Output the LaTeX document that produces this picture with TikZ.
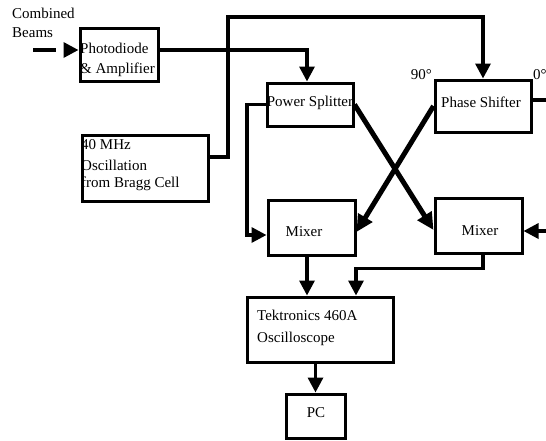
\documentclass[tikz,border=0pt]{standalone}
\usepackage{fontspec}
\setmainfont{Liberation Serif}
\usetikzlibrary{arrows.meta}
\begin{document}
\begin{tikzpicture}[x=1pt,y=-1pt,
  box/.style={draw,line width=3pt,inner sep=0pt},
  lbl/.style={font=\fontsize{15}{18}\selectfont,inner sep=0pt},
  conn/.style={line width=3.3pt,-{Triangle[length=15pt,width=15pt]}},
  wire/.style={line width=3.3pt},
  xconn/.style={line width=5pt,-{Triangle[length=17pt,width=16pt]}}]
\useasboundingbox (0,0) rectangle (546,440);

% boxes
\node[box,minimum width=78pt,minimum height=53pt] (pd) at (119,54.5) {};
\node[box,minimum width=86pt,minimum height=43pt] (ps) at (310,104.5) {};
\node[box,minimum width=96pt,minimum height=52pt] (psh) at (483,106) {};
\node[box,minimum width=126pt,minimum height=66pt] (osc40) at (145,168) {};
\node[box,minimum width=87pt,minimum height=55pt] (mx1) at (311.5,227.5) {};
\node[box,minimum width=87pt,minimum height=55pt] (mx2) at (478.5,225.5) {};
\node[box,minimum width=146pt,minimum height=65pt] (osc) at (320,329.5) {};
\node[box,minimum width=59pt,minimum height=44pt] (pc) at (315.5,416) {};

% texts
\node[lbl,anchor=west] (cb1) at (12,13) {Combined};
\node[lbl,anchor=west] (cb2) at (12,33) {Beams};
\node[lbl,anchor=west] (pdt1) at (80,48) {Photodiode};
\node[lbl,anchor=west] (pdt2) at (80,70) {\& Amplifier};
\node[lbl] (pst) at (310,103) {Power Splitter};
\node[lbl] (psht) at (481,102) {Phase Shifter};
\node[lbl,anchor=east] (d90) at (432,75) {90°};
\node[lbl,anchor=west] (d0) at (533,75) {0°};
\node[lbl,anchor=west] (o1) at (81,145) {40 MHz};
\node[lbl,anchor=west] (o2) at (81,165) {Oscillation};
\node[lbl,anchor=west] (o3) at (81,184) {from Bragg Cell};
\node[lbl] (m1t) at (304,232) {Mixer};
\node[lbl] (m2t) at (480,231) {Mixer};
\node[lbl,anchor=west] (ot1) at (257,315) {Tektronics 460A};
\node[lbl,anchor=west] (ot2) at (257,339) {Oscilloscope};
\node[lbl] (pct) at (316,413) {PC};

% free ends
\coordinate (cb) at (33,50);
\coordinate (rt1) at (546,100);
\coordinate (rt2) at (546,231);

% connectors
\draw[conn,dash pattern=on 23pt off 30pt] (cb) -- (pd.west |- cb);
\draw[conn] (pd.east |- cb) -| ([xshift=-3pt]ps.north);
\draw[conn] ([yshift=11pt]osc40.east) -- (228,157) -- (228,17) -| (psh.north);
\draw[conn] (ps.west) -- (247,104.5) -- (247,235) -- (mx1.west |- 0,235);
\draw[xconn] (ps.east) -- ([yshift=-4.5pt]mx2.west);
\draw[xconn] (psh.west) -- ([yshift=-4.5pt]mx1.east);
\draw[wire] (psh.east |- rt1) -- (rt1);
\draw[conn] (rt2) -- (mx2.east |- rt2);
\draw[conn] ([xshift=-4.5pt]mx1.south) -- ([xshift=-4.5pt]mx1.south |- osc.north);
\draw[conn] ([xshift=4.5pt]mx2.south) -- ++(0,14) -| ([xshift=36pt]osc.north);
\draw[conn] (osc.south -| pc.north) -- (pc.north);
\end{tikzpicture}
\end{document}
